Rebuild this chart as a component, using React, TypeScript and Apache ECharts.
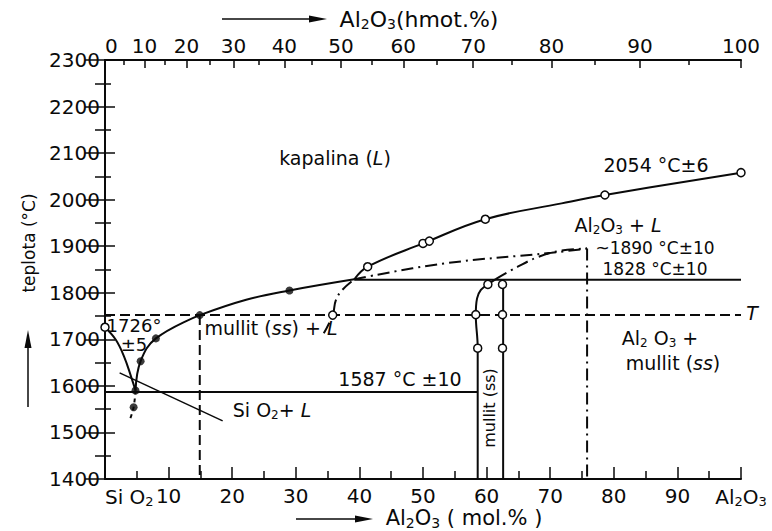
import { useEffect, useRef } from "react";
import * as echarts from "echarts";

// ---- axis ticks (top axis: wt.% labels placed at their mol.% positions)
const topWtLabels = ["0", "10", "20", "30", "40", "50", "60", "70", "80", "90", "100"];
const topMajorMol = [0, 6.2, 12.8, 20.2, 28.2, 37.1, 46.9, 57.9, 70.2, 84.1, 100];
const topMinorMol = [3.0, 9.4, 16.4, 24.1, 32.5, 41.9, 52.2, 63.9, 77.0, 91.8];

// ---- curves [mol.% Al2O3, °C]
const liquidusSilica = [[0, 1726], [1.7, 1699], [3.0, 1663], [4.1, 1620], [4.8, 1590]];
const liquidusMulliteLow = [[4.8, 1590], [5.6, 1653], [8.0, 1702], [14.9, 1752]];
const liquidusMulliteHigh = [[14.9, 1752], [22.2, 1785], [29.0, 1805], [39.2, 1829]];
const liquidusCorundum = [[39.2, 1829], [41.3, 1856], [50.0, 1906], [59.8, 1958], [71.8, 1992], [78.6, 2010], [100, 2058]];
const belowEutectic = [[4.8, 1590], [4.5, 1554], [3.8, 1523]];
const eutecticLine = [[0, 1587], [58.6, 1587]];
const peritecticLine = [[39.2, 1828], [100, 1828]];
const tLine = [[0, 1752], [100, 1752]];
const dashedVertical = [[14.9, 1752], [14.9, 1400]];
const mulliteLeft = [[58.6, 1400], [58.6, 1681], [58.3, 1753], [58.5, 1788], [59.1, 1806], [60.2, 1818], [61.5, 1830]];
const mulliteRight = [[62.6, 1400], [62.6, 1828]];
const metaLower = [[34.4, 1713], [35.8, 1752], [36.3, 1784], [37.3, 1806], [39.2, 1829]];
const metaUpper = [[39.2, 1829], [52.8, 1862], [70.2, 1886], [75.8, 1895]];
const metaMullite = [[61.5, 1830], [64.9, 1856], [68.1, 1877], [71.5, 1890], [75.8, 1895]];
const metaVertical = [[75.8, 1895], [75.8, 1400]];
const leaderSiO2 = [[2.3, 1628], [18.5, 1525]];

// ---- measured points
const filledPoints = [[4.8, 1590], [5.6, 1653], [8.0, 1702], [14.9, 1752], [29.0, 1805], [4.5, 1554]];
const openPoints = [
  [0, 1726], [41.3, 1856], [50.0, 1906], [51.0, 1911], [59.8, 1958], [78.6, 2010], [100, 2058],
  [35.8, 1752], [58.3, 1753], [58.6, 1681], [60.2, 1818], [62.5, 1818], [62.5, 1753], [62.5, 1681],
];

const INK = "#0a0a0a";
const FONT = '"DejaVu Sans", sans-serif';

const rich = (size: number) => ({
  n: { fontSize: size, fontFamily: FONT, color: INK, lineHeight: size + 2, verticalAlign: "middle" },
  s: { fontSize: Math.round(size * 0.65), fontFamily: FONT, color: INK, lineHeight: Math.round(size * 0.6), verticalAlign: "bottom" },
  i: { fontSize: size, fontFamily: FONT, color: INK, fontStyle: "italic", lineHeight: size + 2, verticalAlign: "middle" },
});

function label(x: number, y: number, text: string, size = 19, extra: any = {}) {
  return {
    type: "text",
    x,
    y,
    ...extra,
    style: {
      x: 0,
      y: 0,
      text,
      rich: rich(size),
      fill: INK,
      fontSize: size,
      fontFamily: FONT,
      lineHeight: size + 2,
      align: "center",
      verticalAlign: "middle",
      textAlign: "center",
      textVerticalAlign: "middle",
    },
  };
}

function lineSeries(data: number[][], type: any = "solid", smooth: any = false, width = 2) {
  return {
    type: "line",
    data,
    symbol: "none",
    smooth,
    silent: true,
    lineStyle: { color: INK, width, type },
    z: 2,
  };
}

const DASH = [10, 5];
const DASHDOT = [12, 5, 2, 5];

export default function App() {
  const ref = useRef<HTMLDivElement>(null);
  useEffect(() => {
    document.body.style.margin = "0";
    const chart = echarts.init(ref.current!, undefined, { renderer: "svg" });
    const axisLine = { show: true, lineStyle: { color: INK, width: 2 } };
    chart.setOption({
      animation: false,
      backgroundColor: "#fff",
      grid: { left: 105, right: 31, top: 60, bottom: 52 },
      xAxis: [
        {
          type: "value", min: 0, max: 100, interval: 10, position: "bottom",
          axisLine,
          axisTick: { show: true, inside: true, length: 12, lineStyle: { color: INK, width: 1.5 } },
          minorTick: { show: true, splitNumber: 2, length: 8, lineStyle: { color: INK, width: 1.5 } },
          splitLine: { show: false },
          axisLabel: {
            color: INK, fontSize: 20, fontFamily: FONT, margin: 7, alignMinLabel: "left",
            formatter: (v: number) => (v === 0 ? "{n|Si O}{s|2}" : v === 100 ? "{n|Al}{s|2}{n|O}{s|3}" : String(v)),
            rich: rich(20),
          },
        },
        {
          type: "value", min: 0, max: 100, position: "top",
          axisLine,
          axisTick: { show: true, inside: true, length: 8, customValues: topMajorMol, lineStyle: { color: INK, width: 1.5 } },
          splitLine: { show: false },
          axisLabel: {
            color: INK, fontSize: 20, fontFamily: FONT, margin: 4, alignMinLabel: "left",
            customValues: topMajorMol,
            formatter: (v: number) => {
              const i = topMajorMol.findIndex((m) => Math.abs(m - v) < 0.01);
              return i >= 0 ? topWtLabels[i] : "";
            },
          },
        },
        {
          type: "value", min: 0, max: 100, position: "top",
          axisLine: { show: false },
          axisTick: { show: true, inside: true, length: 5, customValues: topMinorMol, lineStyle: { color: INK, width: 1.5 } },
          splitLine: { show: false },
          axisLabel: { show: false },
        },
      ],
      yAxis: [
        {
          type: "value", min: 1400, max: 2300, interval: 100, position: "left",
          axisLine,
          axisTick: { show: true, inside: true, length: 10, lineStyle: { color: INK, width: 1.5 } },
          minorTick: { show: true, splitNumber: 2, length: 6, lineStyle: { color: INK, width: 1.5 } },
          splitLine: { show: false },
          axisLabel: { color: INK, fontSize: 20, fontFamily: FONT, margin: 5, formatter: (v: number) => String(v) },
        },
        {
          type: "value", min: 1400, max: 2300, interval: 100, position: "right",
          axisLine,
          axisTick: { show: true, inside: true, length: 20, lineStyle: { color: INK, width: 1.5 } },
          minorTick: { show: true, splitNumber: 2, length: 10, lineStyle: { color: INK, width: 1.5 } },
          splitLine: { show: false },
          axisLabel: { show: false },
        },
      ],
      series: [
        lineSeries(liquidusSilica, "solid", 0.4),
        lineSeries(liquidusMulliteLow, "solid", 0.4),
        lineSeries(liquidusMulliteHigh, "solid", 0.4),
        lineSeries(liquidusCorundum, "solid", 0.4),
        lineSeries(belowEutectic, [4, 4], 0.3),
        lineSeries(eutecticLine),
        lineSeries(peritecticLine),
        lineSeries(tLine, DASH),
        lineSeries(dashedVertical, DASH),
        lineSeries(mulliteLeft, "solid", 0.4),
        lineSeries(mulliteRight),
        lineSeries(metaLower, DASHDOT, 0.4),
        lineSeries(metaUpper, DASHDOT, 0.4),
        lineSeries(metaMullite, DASHDOT, 0.4),
        lineSeries(metaVertical, DASHDOT),
        lineSeries(leaderSiO2, "solid", false, 1.5),
        {
          type: "scatter", data: filledPoints, symbol: "circle", symbolSize: 8, silent: true, z: 5,
          itemStyle: { color: INK },
        },
        {
          type: "scatter", data: openPoints, symbol: "circle", symbolSize: 8, silent: true, z: 6,
          itemStyle: { color: "#fff", borderColor: INK, borderWidth: 1.5, opacity: 1 },
        },
      ],
      graphic: [
        // axis titles with arrows
        label(419, 19, "{n|Al}{s|2}{n|O}{s|3}{n|(hmot.%)}", 22),
        { type: "line", shape: { x1: 222, y1: 19, x2: 316, y2: 19 }, style: { stroke: INK, lineWidth: 1.5 } },
        { type: "polygon", shape: { points: [[309, 15.5], [327, 19], [309, 22.5]] }, style: { fill: INK } },
        label(464, 518, "{n|Al}{s|2}{n|O}{s|3}{n| ( mol.% )}", 21),
        { type: "line", shape: { x1: 296, y1: 519, x2: 362, y2: 519 }, style: { stroke: INK, lineWidth: 1.5 } },
        { type: "polygon", shape: { points: [[355, 515.5], [373, 519], [355, 522.5]] }, style: { fill: INK } },
        label(29, 243, "teplota (°C)", 17, { rotation: Math.PI / 2 }),
        { type: "line", shape: { x1: 28, y1: 407, x2: 28, y2: 344 }, style: { stroke: INK, lineWidth: 1.5 } },
        { type: "polygon", shape: { points: [[24.5, 348], [28, 330], [31.5, 348]] }, style: { fill: INK } },
        // field labels
        label(335, 158, "{n|kapalina (}{i|L}{n|)}", 19),
        label(656, 165, "2054 °C±6", 19),
        label(618, 225, "{n|Al}{s|2}{n|O}{s|3}{n| + }{i|L}", 19),
        label(655, 248, "~1890 °C±10", 17),
        label(655, 268.5, "1828 °C±10", 17),
        label(752, 313, "{i|T}", 19),
        label(660, 338, "{n|Al}{s|2}{n| O}{s|3}{n| +}", 19),
        label(673, 363, "{n|mullit (}{i|ss}{n|)}", 19),
        label(271, 328, "{n|mullit (}{i|ss}{n|) + }{i|L}", 19),
        label(400, 379, "1587 °C ±10", 19),
        label(272, 410, "{n|Si O}{s|2}{n|+ }{i|L}", 19),
        label(134, 325, "1726°", 18),
        label(134, 344, "±5", 18),
        label(489, 408, "mullit (ss)", 16, { rotation: Math.PI / 2 }),
      ],
    });
    return () => chart.dispose();
  }, []);
  return <div ref={ref} style={{ position: "fixed", left: 0, top: 0, width: 772, height: 531 }} />;
}
